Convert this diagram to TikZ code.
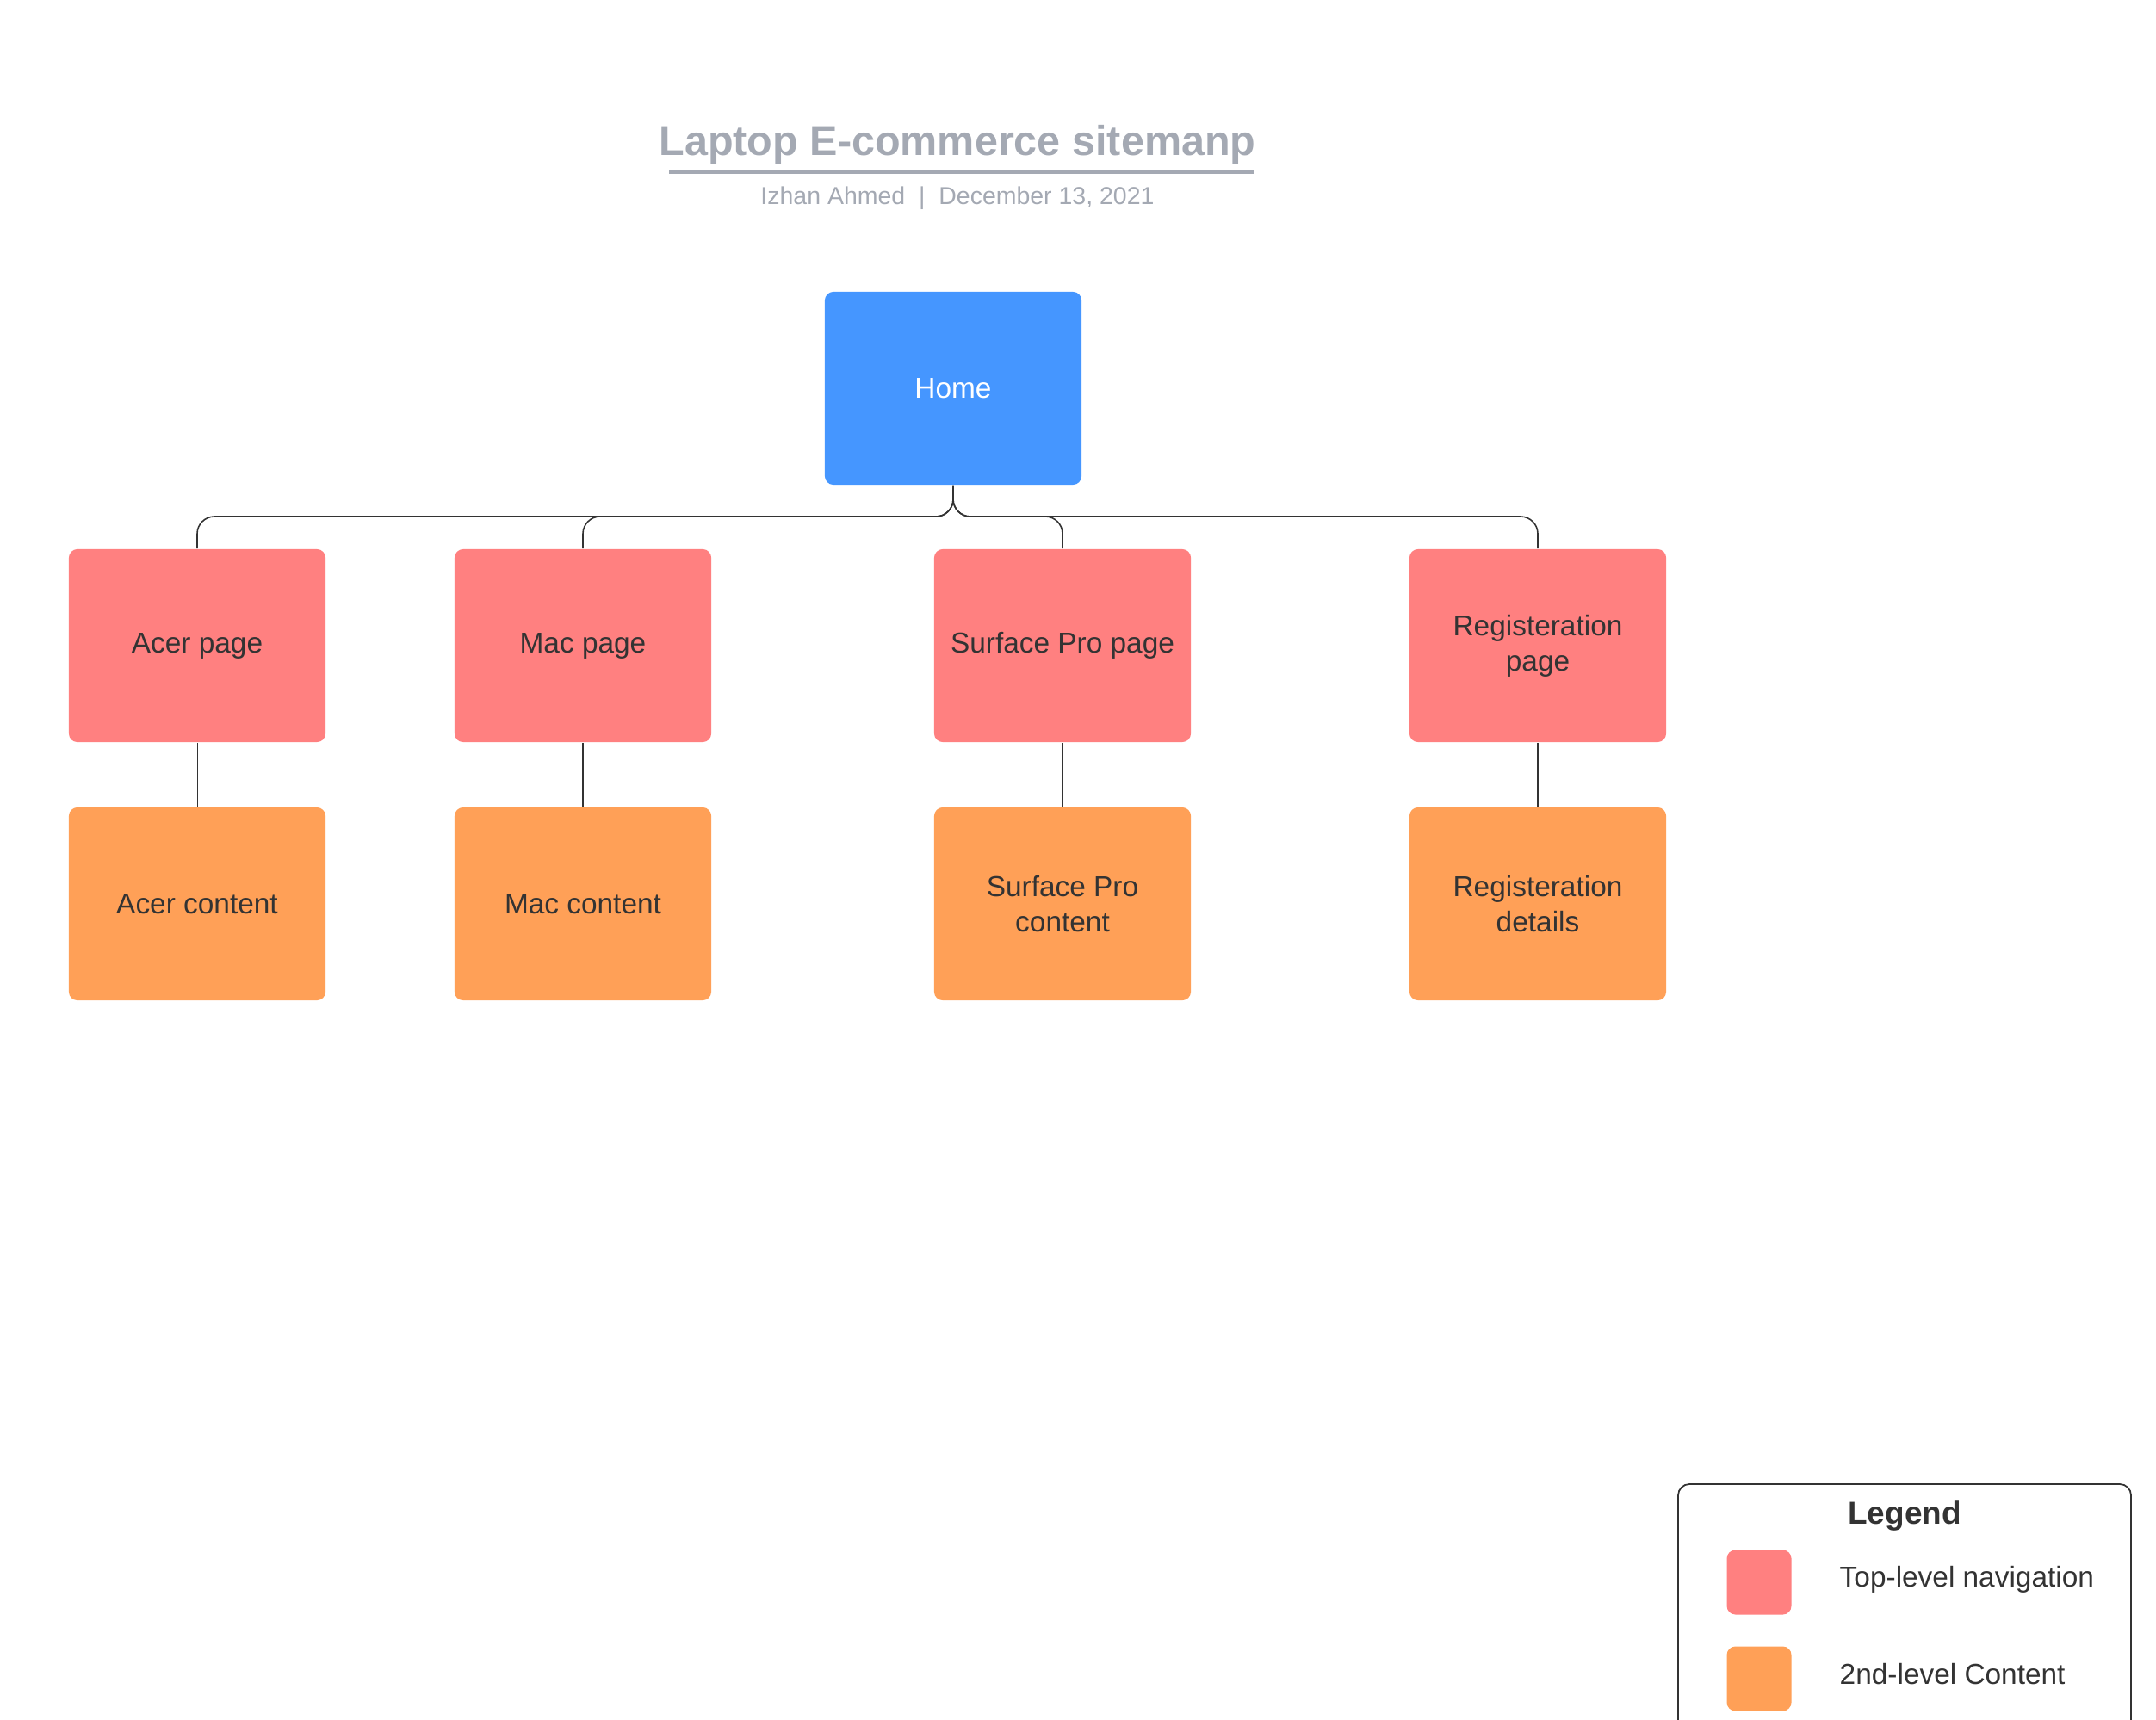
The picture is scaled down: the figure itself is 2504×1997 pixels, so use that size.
\documentclass[tikz,border=0pt]{standalone}
\usepackage{fontspec}
\setmainfont{Liberation Sans}
\definecolor{homeblue}{HTML}{4596FF}
\definecolor{navpink}{HTML}{FF8080}
\definecolor{suborange}{HTML}{FFA057}
\definecolor{titlegray}{HTML}{A4A9B3}
\definecolor{inkgray}{HTML}{333333}
\tikzset{
    pagebox/.style={rounded corners=0.1cm, minimum width=2.98cm, minimum height=2.24cm, align=center, text=inkgray, font=\fontsize{9.5}{11.6}\selectfont},
    link/.style={draw=inkgray, line width=0.45pt}
}
\begin{document}
\begin{tikzpicture}[x=0.01cm, y=-0.01cm]
            \useasboundingbox (0,0) rectangle (2504,1997);
            \node[anchor=base, text=titlegray, font=\fontsize{13.8}{16}\selectfont\bfseries] (title) at (1112,181) {Laptop E-commerce sitemanp};
            \draw[titlegray, line width=1.1pt] (777,200) -- (1456,200);
            \node[anchor=base, text=titlegray, font=\fontsize{8.1}{10}\selectfont] (byline) at (1112,238) {Izhan Ahmed~~|~~December 13, 2021};
            \node[pagebox, fill=homeblue, text=white] (home) at (1107,451) {Home};
            \coordinate (bus) at (0,600);
            \foreach \n/\x/\w/\top/\sub in {acer/229/0.25pt/Acer page/Acer content, mac/677/0.45pt/Mac page/Mac content, surface/1234/0.45pt/Surface Pro page/{Surface Pro\\content}, reg/1786/0.45pt/{Registeration\\page}/{Registeration\\details}}
            {
                    \node[pagebox, fill=navpink] (\n) at (\x,750) {\top};
                    \node[pagebox, fill=suborange] (\n-sub) at (\x,1050) {\sub};
                    \draw[link, rounded corners=0.2cm] (home.south) -- (home.south |- bus) -| (\n.north);
                    \draw[link, line width=\w] (\n.south) -- (\n-sub.north);
            }
            \draw[inkgray, line width=0.5pt, rounded corners=0.13cm] (1949,2010) |- (2475,1724) -- (2475,2010);
            \node[anchor=base, text=inkgray, font=\fontsize{10.5}{12}\selectfont\bfseries] (legend) at (2212,1770) {Legend};
            \node[fill=navpink, rounded corners=0.1cm, minimum size=0.75cm] (navkey) at (2043,1838) {};
            \node[fill=suborange, rounded corners=0.1cm, minimum size=0.75cm] (subkey) at (2043,1950) {};
            \node[anchor=base west, inner sep=0pt, text=inkgray, font=\fontsize{9.5}{11}\selectfont] (navtext) at (2136,1843) {Top-level navigation};
            \node[anchor=base west, inner sep=0pt, text=inkgray, font=\fontsize{9.5}{11}\selectfont] (subtext) at (2136,1956) {2nd-level Content};
        \end{tikzpicture}
\end{document}
